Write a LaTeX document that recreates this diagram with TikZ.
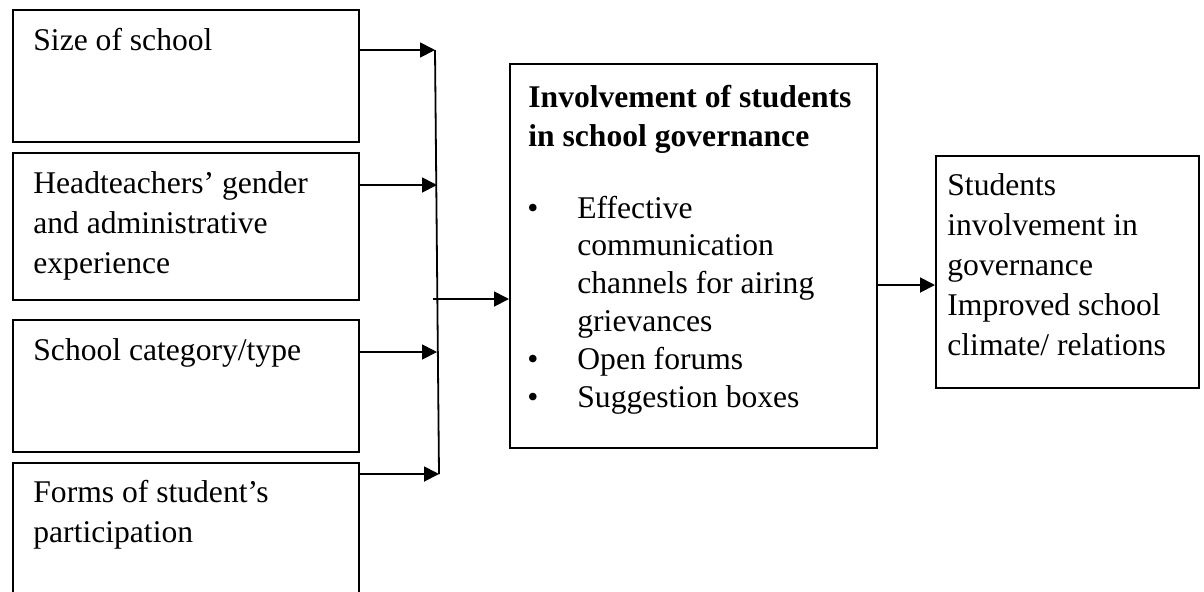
\documentclass[tikz,border=0pt]{standalone}
\usepackage{fontspec}
\setmainfont{Liberation Serif}
\usetikzlibrary{arrows.meta}
\newcommand{\txtlines}[1]{\begin{tabular}[t]{@{}l@{}}#1\end{tabular}}

\begin{document}
\begin{tikzpicture}[x=1pt, y=-1pt,
        factor/.style={rectangle, draw, line width=1pt, minimum width=173pt, anchor=north west, inner sep=0pt},
        txt/.style={anchor=base west, inner sep=0pt, font=\fontsize{15.8}{20}\selectfont},
        arr/.style={line width=0.9pt, -{Triangle[length=7.5pt, width=7.5pt]}}
    ]
    \useasboundingbox (0,0) rectangle (602,295.5);
    % influencing factors
    \node[factor, minimum height=66pt] (size) at (6,4.5) {};
    \node[factor, minimum height=73.5pt] (head) at (6,76) {};
    \node[factor, minimum height=66pt] (categ) at (6,159.5) {};
    \node[factor, minimum height=74pt] (forms) at (6,231) {};
    \node[txt] (sizetxt) at ([xshift=10.5pt,yshift=-20.5pt]size.north west) {Size of school};
    \node[txt] (headtxt) at ([xshift=10.5pt,yshift=-20.5pt]head.north west) {\txtlines{Headteachers’ gender\\and administrative\\experience}};
    \node[txt] (categtxt) at ([xshift=10.5pt,yshift=-20.5pt]categ.north west) {School category/type};
    \node[txt] (formstxt) at ([xshift=10.5pt,yshift=-20pt]forms.north west) {\txtlines{Forms of student’s\\participation}};
    % central box and outcome
    \node[factor, minimum width=183.5pt, minimum height=192pt] (invol) at (254.5,31.5) {};
    \node[txt, font=\fontsize{15.8}{19.5}\selectfont\bfseries] (involtxt) at ([xshift=9.5pt,yshift=-22pt]invol.north west) {\txtlines{Involvement of students\\in school governance}};
    \node[txt, font=\fontsize{15.8}{18.9}\selectfont] (ways) at ([xshift=9pt,yshift=-77.5pt]invol.north west) {\begin{tabular}[t]{@{}p{25pt}@{}l@{}}
        \textbullet & Effective\\
                    & communication\\
                    & channels for airing\\
                    & grievances\\
        \textbullet & Open forums\\
        \textbullet & Suggestion boxes
    \end{tabular}};
    \node[factor, minimum width=131.5pt, minimum height=116pt] (result) at (467.5,77.5) {};
    \node[txt] (resulttxt) at ([xshift=6pt,yshift=-20pt]result.north west) {\txtlines{Students\\involvement in\\governance\\Improved school\\climate/ relations}};
    % connectors
    \coordinate (t1) at (217.5,25);
    \coordinate (t2) at (218.5,92.5);
    \coordinate (t3) at (218.5,176);
    \coordinate (t4) at (219.5,237);
    \draw[arr] (size.east |- t1) -- (t1);
    \draw[arr] (head.east |- t2) -- (t2);
    \draw[arr] (categ.east |- t3) -- (t3);
    \draw[arr] (forms.east |- t4) -- (t4);
    \draw[line width=0.9pt] (t1) -- (t4);
    \coordinate (jn) at (216.5,149.5);
    \draw[arr] (jn) -- (jn -| invol.west);
    \coordinate (out) at (0,142.5);
    \draw[arr] (invol.east |- out) -- (result.west |- out);
\end{tikzpicture}
\end{document}
